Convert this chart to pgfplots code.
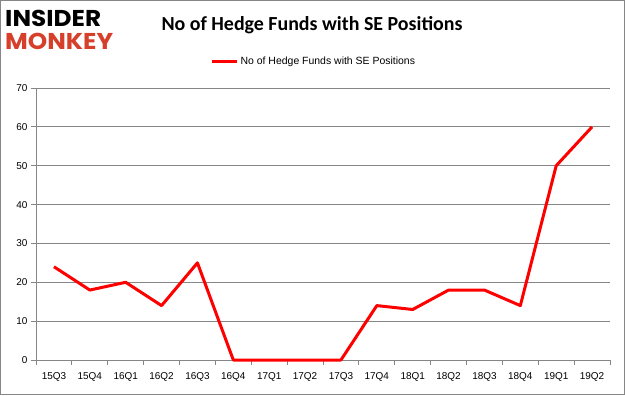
\documentclass[border=0pt]{standalone}
\usepackage{fontspec}
\setmainfont{Liberation Sans}
\newfontfamily\titlefont{Carlito}
\newfontfamily\logofont{Poppins}
\usepackage{pgfplots}
\pgfplotsset{compat=1.18}
\definecolor{gridgray}{RGB}{134,134,134}
\definecolor{logored}{RGB}{214,64,42}
\begin{document}
\begin{tikzpicture}[x=1bp,y=1bp]
\useasboundingbox (0,0) rectangle (625,395);
\fill[white] (0,0) rectangle (625,395);
\draw[gridgray,line width=1.2bp] (0.6,0.6) rectangle (624.4,394.4);
\node[anchor=west,inner sep=0,xscale=1.08,font=\logofont\bfseries\fontsize{23}{23}\selectfont] at (5,377) {INSIDER};
\node[anchor=west,inner sep=0,xscale=1.08,font=\logofont\bfseries\fontsize{23}{23}\selectfont,text=logored] at (5,354) {MONKEY};
\node[font=\titlefont\bfseries\fontsize{20}{24}\selectfont] at (312,370) {No of Hedge Funds with SE Positions};
\begin{axis}[
  at={(36bp,35bp)}, anchor=south west,
  scale only axis, width=574bp, height=272bp,
  xmin=-0.5, xmax=15.5, ymin=0, ymax=70,
  axis x line*=bottom, axis y line*=left,
  axis line style={gridgray,line width=0.8bp,-},
  xtick={0,...,15},
  xticklabels={15Q3,15Q4,16Q1,16Q2,16Q3,16Q4,17Q1,17Q2,17Q3,17Q4,18Q1,18Q2,18Q3,18Q4,19Q1,19Q2},
  minor xtick={-0.5,0.5,...,15.5},
  x tick style={draw=none},
  minor x tick style={draw=gridgray,line width=0.8bp},
  minor tick length=5bp,
  ytick={0,10,...,70},
  y tick style={draw=gridgray,line width=0.8bp},
  major tick length=5bp,
  tick align=outside,
  ymajorgrids, grid style={gridgray,line width=0.8bp},
  tick label style={font=\fontsize{10}{11}\selectfont, text=black},
  xticklabel style={yshift=-4bp},
  /pgf/number format/assume math mode=true,
  legend style={at={(0.484,1.099)}, anchor=center, draw=none, fill=none,
    font=\fontsize{10.5}{12}\selectfont, legend columns=1},
  legend cell align=left,
  legend image code/.code={\draw[#1,line width=3bp] (0,0) -- (25bp,0);},
  clip=false,
]
\addplot[red, line width=3bp, line join=round] coordinates {
(0,24) (1,18) (2,20) (3,14) (4,25) (5,0) (6,0) (7,0) (8,0) (9,14) (10,13) (11,18) (12,18) (13,14) (14,50) (15,60)
};
\addlegendentry{No of Hedge Funds with SE Positions}
\end{axis}
\end{tikzpicture}
\end{document}
